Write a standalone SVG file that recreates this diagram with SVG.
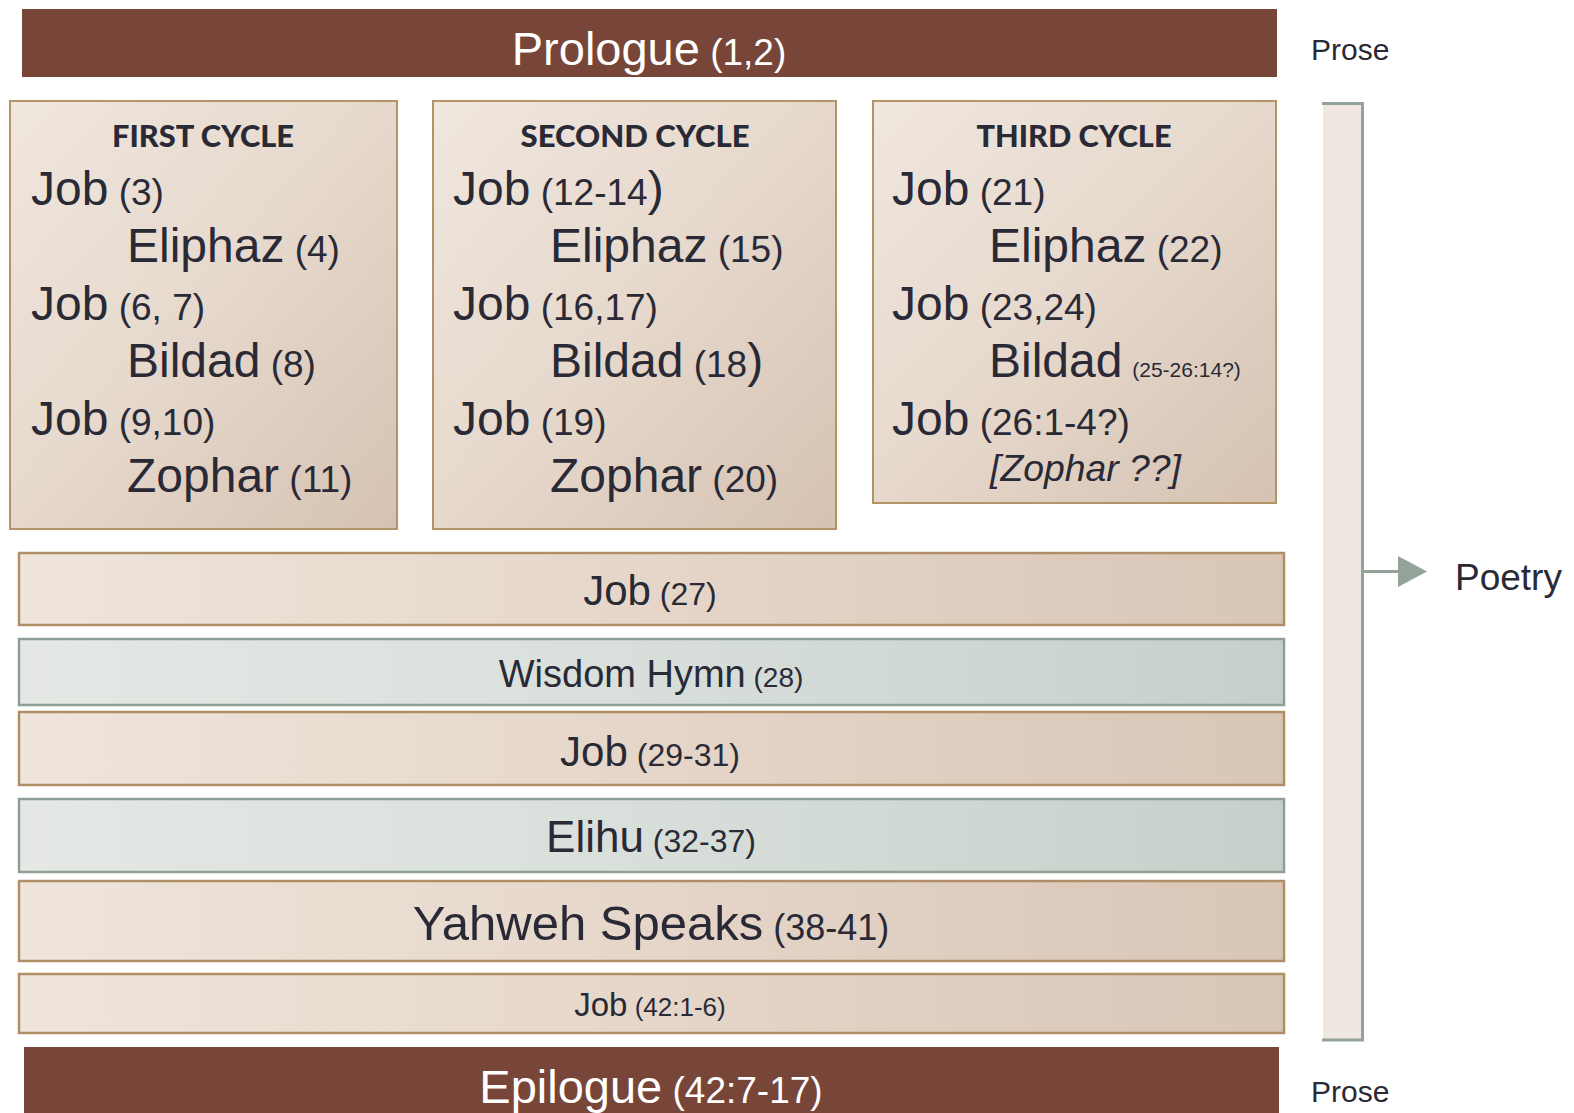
<svg xmlns="http://www.w3.org/2000/svg" width="1574" height="1113" viewBox="0 0 1574 1113">
<defs>
<linearGradient id="gBox" x1="0" y1="0" x2="1" y2="1">
<stop offset="0" stop-color="#f0e7df"/>
<stop offset="0.5" stop-color="#e6d8cc"/>
<stop offset="1" stop-color="#d5c2b2"/>
</linearGradient>
<linearGradient id="gTan" x1="0" y1="0" x2="1" y2="0">
<stop offset="0" stop-color="#efe5dc"/>
<stop offset="0.5" stop-color="#e5d6c9"/>
<stop offset="1" stop-color="#d8c6b7"/>
</linearGradient>
<linearGradient id="gGreen" x1="0" y1="0" x2="1" y2="0">
<stop offset="0" stop-color="#e5e8e4"/>
<stop offset="0.5" stop-color="#d8dfdb"/>
<stop offset="1" stop-color="#c6cfca"/>
</linearGradient>
</defs>
<style>
.t{font-family:"Liberation Sans",Arial,sans-serif;fill:#2a2a36}
.w{font-family:"Liberation Sans",Arial,sans-serif;fill:#ffffff}
.h{font-family:Lato,"Open Sans",sans-serif;font-weight:900;fill:#2a2a36;font-size:30px}
.brown{fill:#784539}
.box{fill:url(#gBox);stroke:#b39468;stroke-width:2}
.tan{fill:url(#gTan);stroke:#b08f66;stroke-width:2.5}
.grn{fill:url(#gGreen);stroke:#8ea096;stroke-width:2.5}
.big{font-size:48px}
.par{font-size:37px}
.conn{stroke:#93a399;stroke-width:3;fill:none}
</style>
<rect width="1574" height="1113" fill="#ffffff"/>

<g id="prologue">
<rect class="brown" x="22" y="9" width="1255" height="68"/>
<text class="w" x="649" y="65" text-anchor="middle"><tspan font-size="47">Prologue</tspan><tspan font-size="37"> (1,2)</tspan></text>
</g>
<g id="prose-top"><text class="t" x="1311" y="60" font-size="30">Prose</text></g>

<g id="first-cycle">
<rect class="box" x="10" y="101" width="387" height="428"/>
<text class="h" x="203" y="147" text-anchor="middle" textLength="182" lengthAdjust="spacingAndGlyphs">FIRST CYCLE</text>
<text class="t" x="31" y="205"><tspan class="big">Job</tspan><tspan class="par"> (3)</tspan></text>
<text class="t" x="127" y="262"><tspan class="big">Eliphaz</tspan><tspan class="par"> (4)</tspan></text>
<text class="t" x="31" y="320"><tspan class="big">Job</tspan><tspan class="par"> (6, 7)</tspan></text>
<text class="t" x="127" y="377"><tspan class="big">Bildad</tspan><tspan class="par"> (8)</tspan></text>
<text class="t" x="31" y="435"><tspan class="big">Job</tspan><tspan class="par"> (9,10)</tspan></text>
<text class="t" x="127" y="492"><tspan class="big">Zophar</tspan><tspan class="par"> (11)</tspan></text>
</g>

<g id="second-cycle">
<rect class="box" x="433" y="101" width="403" height="428"/>
<text class="h" x="635" y="147" text-anchor="middle" textLength="229" lengthAdjust="spacingAndGlyphs">SECOND CYCLE</text>
<text class="t" x="453" y="205"><tspan class="big">Job</tspan><tspan class="par"> (12-14</tspan><tspan class="big">)</tspan></text>
<text class="t" x="550" y="262"><tspan class="big">Eliphaz</tspan><tspan class="par"> (15)</tspan></text>
<text class="t" x="453" y="320"><tspan class="big">Job</tspan><tspan class="par"> (16,17)</tspan></text>
<text class="t" x="550" y="377"><tspan class="big">Bildad</tspan><tspan class="par"> (18</tspan><tspan class="big">)</tspan></text>
<text class="t" x="453" y="435"><tspan class="big">Job</tspan><tspan class="par"> (19)</tspan></text>
<text class="t" x="550" y="492"><tspan class="big">Zophar</tspan><tspan class="par"> (20)</tspan></text>
</g>

<g id="third-cycle">
<rect class="box" x="873" y="101" width="403" height="402"/>
<text class="h" x="1074" y="147" text-anchor="middle" textLength="195" lengthAdjust="spacingAndGlyphs">THIRD CYCLE</text>
<text class="t" x="892" y="205"><tspan class="big">Job</tspan><tspan class="par"> (21)</tspan></text>
<text class="t" x="989" y="262"><tspan class="big">Eliphaz</tspan><tspan class="par"> (22)</tspan></text>
<text class="t" x="892" y="320"><tspan class="big">Job</tspan><tspan class="par"> (23,24)</tspan></text>
<text class="t" x="989" y="377"><tspan class="big">Bildad</tspan><tspan font-size="21" dx="4"> (25-26:14?)</tspan></text>
<text class="t" x="892" y="435"><tspan class="big">Job</tspan><tspan class="par"> (26:1-4?)</tspan></text>
<text class="t" x="990" y="481" font-size="36" font-style="italic" textLength="191" lengthAdjust="spacingAndGlyphs">[Zophar ??]</text>
</g>

<g id="job-27">
<rect class="tan" x="19" y="553" width="1265" height="72"/>
<text class="t" x="650" y="605" text-anchor="middle"><tspan font-size="42">Job</tspan><tspan font-size="32"> (27)</tspan></text>
</g>
<g id="wisdom-hymn">
<rect class="grn" x="19" y="639" width="1265" height="66"/>
<text class="t" x="651" y="687" text-anchor="middle"><tspan font-size="38">Wisdom Hymn</tspan><tspan font-size="28"> (28)</tspan></text>
</g>
<g id="job-29-31">
<rect class="tan" x="19" y="712" width="1265" height="73"/>
<text class="t" x="650" y="766" text-anchor="middle"><tspan font-size="42">Job</tspan><tspan font-size="32"> (29-31)</tspan></text>
</g>
<g id="elihu">
<rect class="grn" x="19" y="799" width="1265" height="73"/>
<text class="t" x="651" y="852" text-anchor="middle"><tspan font-size="44">Elihu</tspan><tspan font-size="32"> (32-37)</tspan></text>
</g>
<g id="yahweh">
<rect class="tan" x="19" y="881" width="1265" height="80"/>
<text class="t" x="651" y="940" text-anchor="middle"><tspan font-size="49">Yahweh Speaks</tspan><tspan font-size="36"> (38-41)</tspan></text>
</g>
<g id="job-42">
<rect class="tan" x="19" y="974" width="1265" height="59"/>
<text class="t" x="650" y="1016" text-anchor="middle"><tspan font-size="33">Job</tspan><tspan font-size="26"> (42:1-6)</tspan></text>
</g>

<g id="epilogue">
<rect class="brown" x="24" y="1047" width="1255" height="70"/>
<text class="w" x="651" y="1103" text-anchor="middle"><tspan font-size="47">Epilogue</tspan><tspan font-size="37"> (42:7-17)</tspan></text>
</g>
<g id="prose-bottom"><text class="t" x="1311" y="1102" font-size="30">Prose</text></g>

<g id="poetry-bracket">
<rect x="1323" y="103" width="40" height="937" fill="#efe7e0"/>
</g>
<g id="connectors">
<path class="conn" d="M1322 103.5 H1362.5 V1040 H1322"/>
<line class="conn" x1="1362.5" y1="571.5" x2="1400" y2="571.5"/>
<polygon points="1398,556 1427,571.5 1398,587" fill="#93a399"/>
</g>
<g id="poetry"><text class="t" x="1455" y="590" font-size="37">Poetry</text></g>
</svg>
